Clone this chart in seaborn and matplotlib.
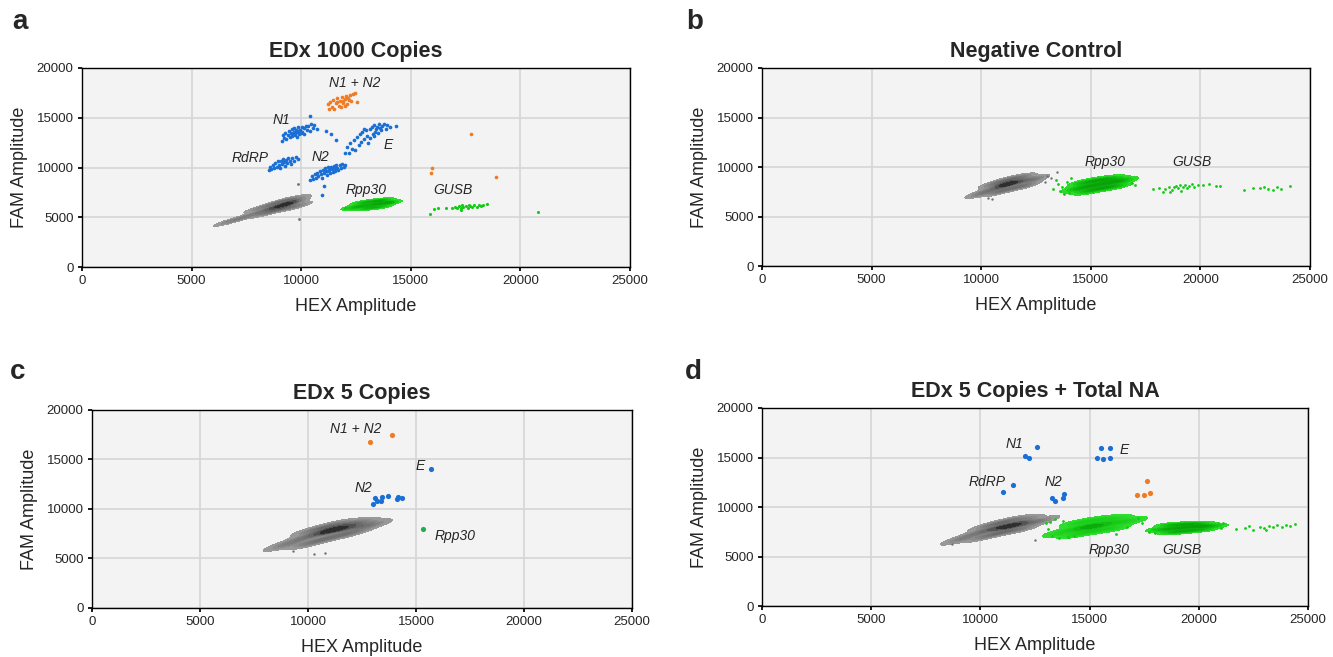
import numpy as np
import matplotlib
matplotlib.use("Agg")
import matplotlib.pyplot as plt
import seaborn as sns
from matplotlib.colors import LinearSegmentedColormap

# ---- data (HEX amplitude, FAM amplitude) ----
# panel a : EDx 1000 Copies
a_gray = [(6600, 4500), (7100, 4800), (7600, 5150), (8100, 5500), (8500, 5800), (8800, 6000),
          (9100, 6200), (9400, 6350), (9700, 6450), (8000, 5850), (8500, 6150), (8900, 6450),
          (9200, 6650), (9500, 6750), (9800, 6800), (8300, 5350), (8700, 5650), (9000, 5850),
          (9300, 5950), (9600, 6050), (9900, 6150), (9200, 6300), (9400, 6400), (9300, 6250)]
a_gray_out = [(9840, 8340), (9900, 4820)]
a_n1n2 = [(11210, 16400), (11260, 15900), (11330, 16600), (11400, 16100), (11470, 16750), (11520, 15850),
          (11580, 16450), (11650, 16950), (11710, 16200), (11770, 16700), (11820, 16050), (11880, 17050),
          (11930, 16450), (11980, 16850), (12040, 17200), (12090, 16350), (12140, 17000), (12210, 17300),
          (12290, 16700), (12370, 17350), (12460, 17450), (12560, 16600), (11640, 16550), (12010, 16200),
          (11900, 16650), (12200, 16800),
          (17770, 13370), (15950, 9920), (15900, 9480), (18870, 9010)]
a_n1 = [(9120, 12700), (9150, 13250), (9220, 13000), (9280, 13500), (9330, 12850), (9390, 13300),
        (9430, 13700), (9480, 13050), (9520, 13450), (9570, 13850), (9600, 13150), (9650, 13600),
        (9690, 13950), (9720, 13300), (9760, 13750), (9790, 13100), (9830, 13550), (9870, 14050),
        (9900, 13350), (9940, 13800), (9980, 13500), (10020, 14100), (10060, 13600), (10110, 13950),
        (10150, 13400), (10200, 14200), (10250, 13800), (10320, 14150), (10380, 13700), (10450, 14350),
        (10530, 14000), (10600, 14250), (9700, 13500), (9850, 13700), (9560, 13400),
        (10400, 15200), (10740, 13900), (11130, 13700), (11360, 13400), (11570, 12760)]
a_rdrp = [(8510, 9700), (8560, 10100), (8640, 9850), (8700, 10300), (8760, 9950), (8820, 10450),
          (8880, 10100), (8930, 10650), (8980, 10300), (9040, 9950), (9080, 10700), (9120, 10400),
          (9170, 10900), (9220, 10550), (9270, 10200), (9310, 10800), (9360, 10500), (9420, 11000),
          (9480, 10700), (9530, 10400), (9600, 10950), (9680, 10650), (9750, 11050), (9850, 10900)]
a_n2 = [(10420, 8700), (10480, 9150), (10550, 8850), (10610, 9350), (10670, 8950), (10730, 9450),
        (10790, 9150), (10850, 9650), (10900, 9300), (10950, 8950), (11000, 9750), (11050, 9450),
        (11100, 9900), (11140, 9600), (11180, 9250), (11230, 10050), (11270, 9750), (11310, 9450),
        (11350, 10100), (11400, 9800), (11440, 9550), (11480, 10200), (11520, 9900), (11560, 9650),
        (11610, 10250), (11650, 9950), (11700, 9700), (11760, 10300), (11820, 10000), (11880, 10350),
        (11950, 10050), (12020, 10300), (11380, 9950), (11200, 9650), (11560, 10000),
        (11040, 8140), (10930, 7240)]
a_e = [(12020, 11480), (12090, 12100), (12180, 11500), (12240, 12500), (12330, 11900), (12410, 12800),
       (12470, 11800), (12560, 13100), (12620, 12300), (12680, 13350), (12730, 12550), (12790, 13600),
       (12880, 12900), (12940, 13800), (13010, 13200), (13060, 12500), (13120, 13900), (13160, 13000),
       (13210, 14100), (13270, 13400), (13330, 14300), (13380, 13600), (13450, 14100), (13510, 13500),
       (13570, 14350), (13620, 13750), (13700, 14150), (13780, 14400), (13850, 13900), (13930, 14300),
       (14060, 14100), (14320, 14150), (12850, 13900), (13300, 13200), (13600, 14000), (13400, 13850)]
a_rpp30 = [(12300, 5950), (12700, 6100), (13100, 6250), (13500, 6350), (13900, 6450), (14100, 6500),
           (12700, 6400), (13100, 6550), (13500, 6650), (13800, 6700), (12900, 5900), (13300, 6000),
           (13700, 6100)]
a_rpp30_out = [(11980, 5960)]
a_gusb = [(16900, 5900), (17000, 6050), (17100, 5950), (17200, 6100), (17300, 5900), (17400, 6000),
          (17500, 6150), (17600, 5950), (17700, 6100), (17800, 6000), (17900, 6200), (18000, 6050),
          (18100, 6250), (18200, 6100), (18300, 6200), (18500, 6300), (17350, 6200), (17650, 6250),
          (16600, 5960), (16070, 5860), (16250, 5880), (15880, 5330), (17300, 5700), (20820, 5560)]

# panel b : Negative Control
b_gray = [(9800, 7200), (10200, 7500), (10600, 7800), (11000, 8100), (11400, 8350), (11800, 8550),
          (12200, 8700), (12600, 8850), (10400, 8150), (10800, 8450), (11200, 8700), (11600, 8900),
          (12000, 9000), (10600, 7400), (11000, 7650), (11400, 7850), (11800, 8050), (12200, 8250),
          (11200, 8300), (11400, 8400), (11000, 8200)]
b_gray_out = [(10300, 6900), (10500, 6800), (13000, 9100), (13440, 9460), (12900, 8500), (13200, 8900)]
b_rpp30 = [(14200, 7700), (14600, 7900), (15000, 8100), (15400, 8250), (15800, 8400), (16200, 8550),
           (16600, 8700), (14500, 8300), (14900, 8500), (15300, 8650), (15700, 8800), (16100, 8850),
           (14700, 7500), (15100, 7700), (15500, 7850), (15900, 8000), (16300, 8150)]
b_green_out = [(13400, 8700), (13500, 8300), (13600, 7600), (13700, 8000), (13800, 7300), (13900, 8500),
               (14000, 7400), (14100, 8850), (13300, 7800), (16900, 8400), (17000, 8200),
               (17850, 7750), (18100, 7900), (18300, 7500), (18400, 7800), (18550, 8000), (18700, 7700),
               (18800, 7950), (18900, 8100), (19000, 7850), (19100, 7600), (19200, 8000), (19300, 8200),
               (19400, 7900), (19500, 8100), (19600, 8250), (19700, 7950), (19900, 8200), (20100, 8150),
               (20400, 8300), (20700, 8050), (20900, 8100), (19050, 8150), (18600, 7450),
               (22000, 7700), (22400, 7850), (22700, 7900), (22900, 7950), (23100, 7800), (23300, 7650),
               (23500, 8000), (23700, 7750), (24100, 8050)]

# panel c : EDx 5 Copies
c_gray = [(8700, 6200), (9200, 6600), (9700, 7000), (10200, 7350), (10700, 7650), (11200, 7900),
          (11700, 8050), (12200, 8200), (12700, 8350), (13100, 8450), (10000, 7700), (10500, 8000),
          (11000, 8300), (11500, 8500), (12000, 8550), (12500, 8650), (9800, 6400), (10300, 6700),
          (10800, 7000), (11300, 7250), (11800, 7500), (12300, 7750), (11200, 7900), (11400, 8000),
          (11000, 7800)]
c_gray_out = [(9300, 5750), (10300, 5500), (10800, 5600)]
c_n1n2 = [(12870, 16800), (13870, 17470)]
c_blue = [(15690, 14040), (13020, 10470), (13100, 11080), (13180, 10840), (13380, 10840), (13440, 11240),
          (13720, 11310), (14100, 10980), (14180, 11240), (14370, 11080)]
c_rpp30 = [(15340, 8010)]

# panel d : EDx 5 Copies + Total NA
d_gray = [(8900, 6600), (9400, 7000), (9900, 7400), (10400, 7700), (10900, 7950), (11400, 8100),
          (11900, 8300), (12400, 8450), (12900, 8650), (10200, 8000), (10700, 8300), (11200, 8550),
          (11700, 8750), (12200, 8800), (10000, 6900), (10500, 7200), (11000, 7450), (11500, 7650),
          (12000, 7850), (11300, 8050), (11500, 8150), (11100, 8000)]
d_gray_out = [(12500, 6670), (8700, 6300)]
d_rpp30 = [(13500, 7300), (14000, 7600), (14500, 7850), (15000, 8050), (15500, 8200), (16000, 8350),
           (16500, 8500), (17000, 8650), (14300, 8300), (14800, 8500), (15300, 8700), (15800, 8800),
           (16300, 8850), (14200, 7200), (14700, 7400), (15200, 7600), (15700, 7750), (16200, 7900),
           (15100, 8000), (15300, 8100), (14900, 7950)]
d_gusb = [(18200, 7700), (18700, 7800), (19200, 7900), (19700, 8000), (20200, 8050), (20700, 8100),
          (18600, 8150), (19100, 8200), (19600, 8300), (20100, 8300), (18700, 7450), (19200, 7550),
          (19700, 7650), (20200, 7750)]
d_green_out = [(13100, 7800), (13200, 8500), (13300, 7100), (13400, 8800), (13600, 6900), (13800, 8600),
               (14000, 7000), (13000, 8400), (14300, 7100), (16700, 8000), (17200, 8900), (17400, 8400),
               (16200, 7300), (17700, 7500), (17900, 7800), (18000, 7400), (20900, 8300), (21100, 8400),
               (21000, 7900), (21700, 7800), (22100, 7900), (22500, 7700), (22800, 8000), (23000, 7850),
               (23200, 8100), (23400, 8000), (23600, 8150), (23800, 7950), (24000, 8200), (24200, 8050),
               (24400, 8300), (23100, 7700), (22300, 8100)]
d_n1e = [(12580, 16090), (12040, 15180), (12230, 14950), (15510, 15990), (15920, 15990), (15320, 14950),
         (15610, 14850), (15920, 14950), (11480, 12250), (11030, 11520), (13290, 10910), (13420, 10640),
         (13830, 11280), (13770, 10910)]
d_orange = [(17630, 12600), (17170, 11210), (17480, 11210), (17780, 11450)]

titles = ["EDx 1000 Copies", "Negative Control", "EDx 5 Copies", "EDx 5 Copies + Total NA"]
letters = ["a", "b", "c", "d"]
labels_a = [("N1 + N2", 12450, 18500), ("N1", 9120, 14770), ("RdRP", 7660, 10950), ("N2", 10860, 11060),
            ("E", 13960, 12260), ("Rpp30", 12960, 7740), ("GUSB", 16930, 7740)]
labels_b = [("Rpp30", 15650, 10500), ("GUSB", 19620, 10500)]
labels_c = [("N1 + N2", 12220, 18080), ("E", 15190, 14340), ("N2", 12590, 12120), ("Rpp30", 16800, 7270)]
labels_d = [("N1", 11580, 16360), ("E", 16580, 15760), ("RdRP", 10300, 12530), ("N2", 13370, 12530),
            ("Rpp30", 15890, 5660), ("GUSB", 19230, 5660)]

BLUE = "#1a6fd6"
ORANGE = "#f07b22"
GREEN = "#11cc11"
GRAY = "#707070"
gray_cmap = LinearSegmentedColormap.from_list("grays", ["#a0a0a0", "#666666", "#1a1a1a"])
green_cmap = LinearSegmentedColormap.from_list("greens", ["#33e033", "#14c814", "#08a008"])

sns.set_theme(style="white")
plt.rcParams["font.family"] = ["Liberation Sans", "DejaVu Sans"]


def cloud(ax, pts, cmap, bw=0.8, thresh=0.04):
    arr = np.array(pts)
    sns.kdeplot(x=arr[:, 0], y=arr[:, 1], fill=True, cmap=cmap, levels=10,
                thresh=thresh, bw_adjust=bw, ax=ax)


def dots(ax, pts, color, size):
    arr = np.array(pts)
    sns.scatterplot(x=arr[:, 0], y=arr[:, 1], color=color, s=size, linewidth=0, ax=ax)


def style(ax, title, labels):
    ax.set_facecolor("#f3f3f3")
    ax.set_xlim(0, 25000)
    ax.set_ylim(0, 20000)
    ax.set_xticks(range(0, 25001, 5000))
    ax.set_yticks(range(0, 20001, 5000))
    ax.grid(True, color="#d6d6d6", lw=1.2)
    ax.set_axisbelow(True)
    for s in ax.spines.values():
        s.set_visible(True)
        s.set_color("black")
        s.set_linewidth(1.0)
    ax.tick_params(axis="both", labelsize=9.5, length=3, direction="out", color="black",
                   left=True, bottom=True, pad=3)
    ax.set_xlabel("HEX Amplitude", fontsize=13, labelpad=8)
    ax.set_ylabel("FAM Amplitude", fontsize=13, labelpad=6)
    ax.set_title(title, fontsize=15.5, fontweight="bold", pad=8)
    for txt, x, y in labels:
        ax.text(x, y, txt, fontsize=10, style="italic", ha="center", va="center")


fig = plt.figure(figsize=(13.33, 6.57), dpi=100)
ax_a = fig.add_axes([0.0615, 0.5936, 0.4111, 0.3029])
ax_b = fig.add_axes([0.5716, 0.5951, 0.4111, 0.3014])
ax_c = fig.add_axes([0.0690, 0.0746, 0.4051, 0.3014])
ax_d = fig.add_axes([0.5716, 0.0776, 0.4096, 0.3014])

# a
cloud(ax_a, a_gray, gray_cmap)
dots(ax_a, a_gray_out, GRAY, 4)
cloud(ax_a, a_rpp30, green_cmap)
dots(ax_a, a_rpp30_out + a_gusb, GREEN, 5)
dots(ax_a, a_n1 + a_rdrp + a_n2 + a_e, BLUE, 7)
dots(ax_a, a_n1n2, ORANGE, 7)
style(ax_a, titles[0], labels_a)

# b
cloud(ax_b, b_gray, gray_cmap)
dots(ax_b, b_gray_out, GRAY, 3)
cloud(ax_b, b_rpp30, green_cmap)
dots(ax_b, b_green_out, GREEN, 4)
style(ax_b, titles[1], labels_b)

# c
cloud(ax_c, c_gray, gray_cmap)
dots(ax_c, c_gray_out, GRAY, 3)
dots(ax_c, c_n1n2, ORANGE, 14)
dots(ax_c, c_blue, BLUE, 14)
dots(ax_c, c_rpp30, "#1fae4b", 14)
style(ax_c, titles[2], labels_c)

# d
cloud(ax_d, d_gray, gray_cmap)
dots(ax_d, d_gray_out, GRAY, 3)
cloud(ax_d, d_rpp30, green_cmap)
cloud(ax_d, d_gusb, green_cmap)
dots(ax_d, d_green_out, GREEN, 4)
dots(ax_d, d_n1e, BLUE, 14)
dots(ax_d, d_orange, ORANGE, 14)
style(ax_d, titles[3], labels_d)

letter_pos = [(0.009, 0.966), (0.515, 0.966), (0.0075, 0.434), (0.514, 0.434)]
for let, (lx, ly) in zip(letters, letter_pos):
    fig.text(lx, ly, let, fontsize=20, fontweight="bold", va="center")

fig.savefig("out.png", dpi=100)
